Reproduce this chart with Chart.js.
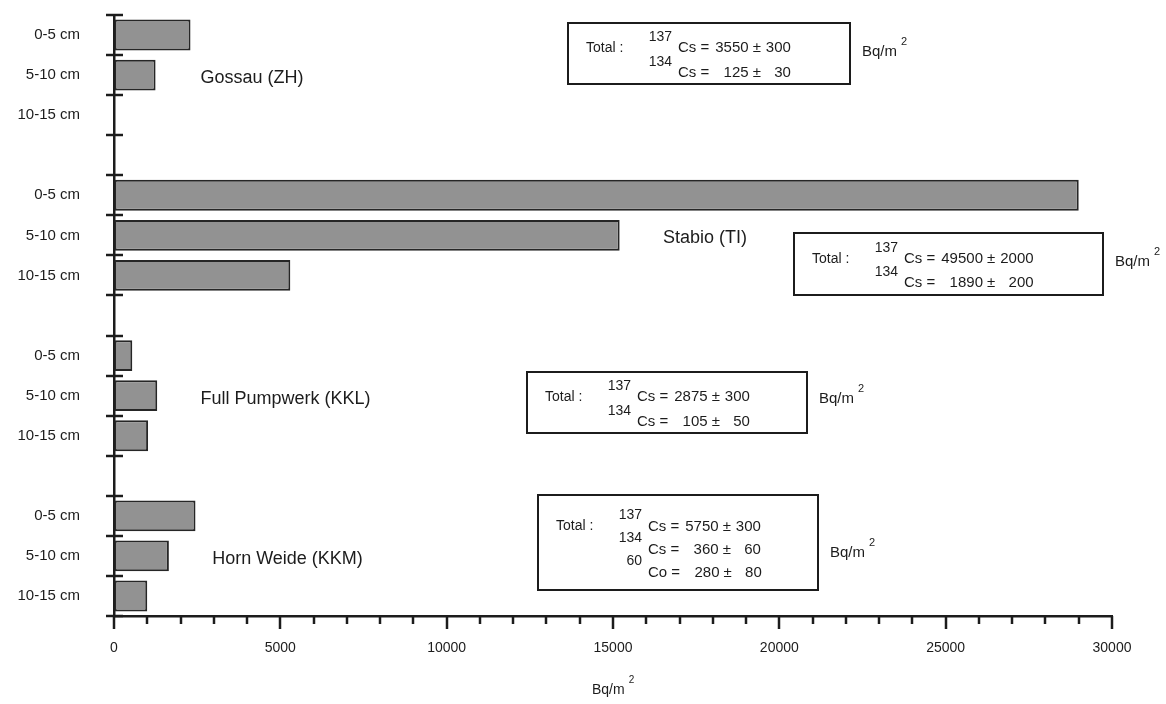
<!DOCTYPE html>
<html>
<head>
<meta charset="utf-8">
<title>Bodenprofile</title>
<script src="https://cdn.jsdelivr.net/npm/chart.js@4.4.1/dist/chart.umd.min.js"></script>
<style>
    html, body { margin: 0; padding: 0; background: #fff; }
    #wrap { width: 1166px; height: 704px; position: relative; }
</style>
</head>
<body>
<div id="wrap"><canvas id="soilChart"></canvas></div>
<script>
// Tiefenstufen und Standorte
const depths = ['0-5 cm', '5-10 cm', '10-15 cm'];
const sites = ['Gossau (ZH)', 'Stabio (TI)', 'Full Pumpwerk (KKL)', 'Horn Weide (KKM)'];

// Aktivität pro Tiefenstufe (Bq/m2)
const gossau = [2300, 1250, null];
const stabio = [29000, 15200, 5300];
const fullPumpwerk = [550, 1300, 1025];
const hornWeide = [2450, 1650, 1000];

// Gesamtinventar: [Massenzahl, Nuklid, Wert, Fehler]
const gossauTotal = [['137', 'Cs', '3550', '300'], ['134', 'Cs', '125', '30']];
const stabioTotal = [['137', 'Cs', '49500', '2000'], ['134', 'Cs', '1890', '200']];
const fullTotal = [['137', 'Cs', '2875', '300'], ['134', 'Cs', '105', '50']];
const hornTotal = [['137', 'Cs', '5750', '300'], ['134', 'Cs', '360', '60'], ['60', 'Co', '280', '80']];

const xMax = 30000;
const xMajor = 5000;
const xMinor = 1000;
const unitLabel = 'Bq/m';

const FONT = 'Arial, "Liberation Sans", Helvetica, sans-serif';
const INK = '#1c1c1c';

// Kategorien: je Standort drei Tiefen, dazwischen eine leere Zeile
const siteValues = [gossau, stabio, fullPumpwerk, hornWeide];
const siteTotals = [gossauTotal, stabioTotal, fullTotal, hornTotal];
const labels = [];
const values = [];
siteValues.forEach((vals, i) => {
    depths.forEach((d, j) => { labels.push(d); values.push(vals[j]); });
    if (i < siteValues.length - 1) { labels.push(''); values.push(null); }
});

// Lage der Beschriftungen und Kästen (Pixel bzw. x-Wert für Standortnamen)
const siteLabelX = [2600, 16500, 2600, 2950];
const boxes = [
    { x: 568, y: 23, w: 282, h: 61, unitDy: -2 },
    { x: 794, y: 233, w: 309, h: 62, unitDy: -2 },
    { x: 527, y: 372, w: 280, h: 61, unitDy: -4 },
    { x: 538, y: 495, w: 280, h: 95, unitDy: 10 }
];

function drawUnit(ctx, x, y, size) {
    ctx.font = size + 'px ' + FONT;
    ctx.textAlign = 'left';
    ctx.textBaseline = 'middle';
    ctx.fillText(unitLabel, x, y);
    const w = ctx.measureText(unitLabel).width;
    ctx.font = Math.round(size * 0.72) + 'px ' + FONT;
    ctx.fillText('2', x + w + 4, y - 10);
}

const annotations = {
    id: 'annotations',
    afterDraw(chart) {
        const { ctx } = chart;
        const xs = chart.scales.x;
        const ys = chart.scales.y;
        const axisX = xs.left;
        const axisY = ys.bottom;
        ctx.save();
        ctx.strokeStyle = INK;
        ctx.fillStyle = INK;

        // Querstriche an den Zeilengrenzen der y-Achse
        const step = ys.getPixelForValue(1) - ys.getPixelForValue(0);
        ctx.lineWidth = 2.5;
        for (let i = 0; i <= labels.length; i++) {
            const y = Math.round(ys.getPixelForValue(i) - step / 2);
            ctx.beginPath();
            ctx.moveTo(axisX - 8, y);
            ctx.lineTo(axisX + 9, y);
            ctx.stroke();
        }

        // Haupt- und Nebenstriche der x-Achse
        for (let v = 0; v <= xMax; v += xMinor) {
            const x = Math.round(xs.getPixelForValue(v));
            ctx.beginPath();
            ctx.moveTo(x, axisY);
            ctx.lineTo(x, axisY + (v % xMajor === 0 ? 13 : 8));
            ctx.stroke();
        }

        // Standortnamen neben der mittleren Tiefenstufe
        ctx.font = '18px ' + FONT;
        ctx.textAlign = 'left';
        ctx.textBaseline = 'middle';
        sites.forEach((name, i) => {
            const row = i * 4 + 1;
            ctx.fillText(name, xs.getPixelForValue(siteLabelX[i]), ys.getPixelForValue(row) + 3);
        });

        // Kästen mit dem Gesamtinventar
        siteTotals.forEach((rows, i) => {
            const b = boxes[i];
            ctx.lineWidth = 2;
            ctx.strokeRect(b.x, b.y, b.w, b.h);
            const rowGap = rows.length > 2 ? 23 : 24.5;
            const firstY = b.y + b.h / 2 + 7 - (rows.length - 1) * rowGap / 2;

            ctx.font = '14px ' + FONT;
            ctx.textAlign = 'left';
            ctx.fillText('Total :', b.x + 18, firstY);

            ctx.font = '15px ' + FONT;
            const valW = Math.max(...rows.map(r => ctx.measureText(r[2]).width));
            const errW = Math.max(...rows.map(r => ctx.measureText(r[3]).width));
            const symX = b.x + 110;
            rows.forEach((r, k) => {
                const y = firstY + k * rowGap;
                ctx.font = '14px ' + FONT;
                ctx.textAlign = 'right';
                ctx.fillText(r[0], b.x + 104, y - 11);
                ctx.font = '15px ' + FONT;
                ctx.textAlign = 'left';
                const sym = r[1] + ' =';
                ctx.fillText(sym, symX, y);
                const valRight = symX + ctx.measureText(sym).width + 6 + valW;
                ctx.textAlign = 'right';
                ctx.fillText(r[2], valRight, y);
                ctx.textAlign = 'left';
                ctx.fillText('±', valRight + 4, y);
                const pmW = ctx.measureText('±').width;
                ctx.textAlign = 'right';
                ctx.fillText(r[3], valRight + 4 + pmW + 5 + errW, y);
            });
            drawUnit(ctx, b.x + b.w + 12, b.y + b.h / 2 + b.unitDy, 15);
        });

        // Achsentitel
        drawUnit(ctx, 592, 690, 14);
        ctx.restore();
    }
};

new Chart(document.getElementById('soilChart'), {
    type: 'bar',
    data: {
        labels: labels,
        datasets: [{
            data: values,
            backgroundColor: '#929292',
            borderColor: '#262626',
            borderWidth: 2,
            borderSkipped: false,
            barPercentage: 0.77,
            categoryPercentage: 1.0
        }]
    },
    options: {
        indexAxis: 'y',
        responsive: true,
        maintainAspectRatio: false,
        animation: false,
        layout: { padding: { top: 15, right: 54, left: 0, bottom: 0 } },
        plugins: {
            legend: { display: false },
            tooltip: { enabled: false }
        },
        scales: {
            x: {
                type: 'linear',
                min: 0,
                max: xMax,
                afterFit: s => { s.height = 88; s.paddingLeft = 0; s.paddingRight = 0; },
                border: { display: true, color: INK, width: 2.5 },
                grid: { display: true, drawOnChartArea: false, drawTicks: false },
                ticks: {
                    stepSize: xMinor,
                    autoSkip: false,
                    maxRotation: 0,
                    padding: 24,
                    color: INK,
                    font: { family: FONT, size: 14 },
                    callback: v => (v % xMajor === 0 ? String(v) : '')
                }
            },
            y: {
                type: 'category',
                offset: true,
                afterFit: s => { s.width = 114; s.paddingTop = 0; s.paddingBottom = 0; },
                border: { display: true, color: INK, width: 2.5 },
                grid: { display: true, drawOnChartArea: false, drawTicks: false },
                ticks: {
                    autoSkip: false,
                    padding: 34,
                    color: INK,
                    font: { family: FONT, size: 15 }
                }
            }
        }
    },
    plugins: [annotations]
});
</script>
</body>
</html>
